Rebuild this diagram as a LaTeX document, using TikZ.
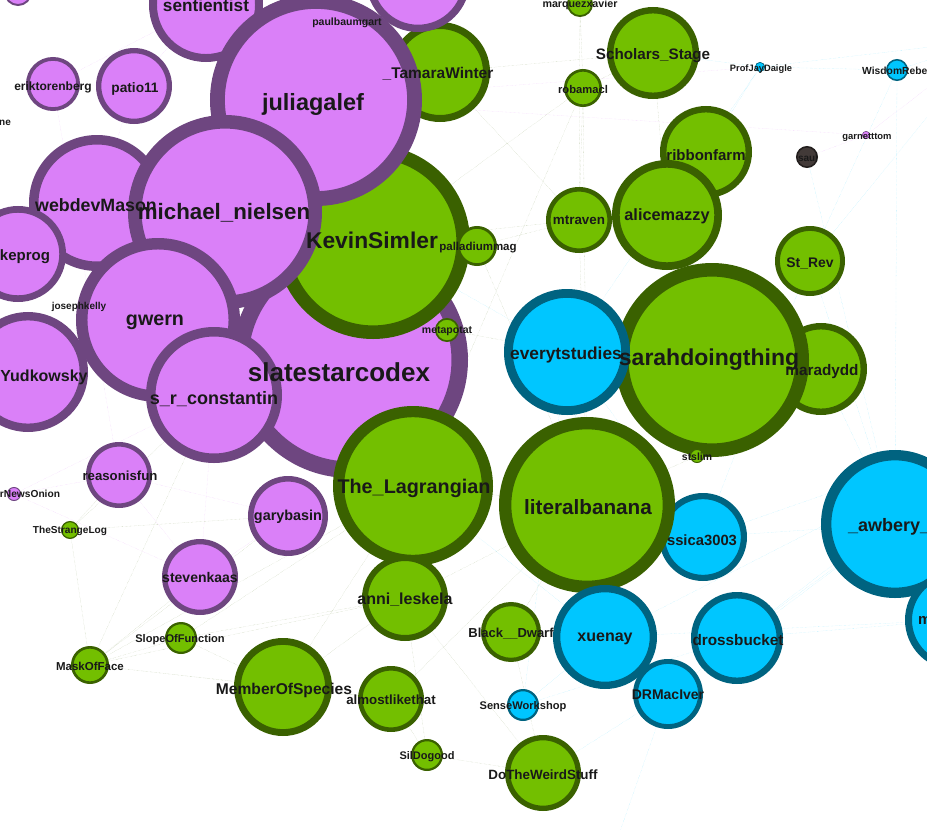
\documentclass[tikz,border=0pt]{standalone}
\usepackage{fontspec}
\setmainfont{Liberation Sans}
\usetikzlibrary{backgrounds}
\definecolor{pinkfill}{RGB}{218,128,248}
\definecolor{pinkring}{RGB}{110,70,128}
\definecolor{greenfill}{RGB}{115,191,0}
\definecolor{greenring}{RGB}{58,97,0}
\definecolor{bluefill}{RGB}{0,198,255}
\definecolor{bluering}{RGB}{0,99,128}
\definecolor{greyfill}{RGB}{66,58,56}
\definecolor{greyring}{RGB}{34,30,29}
\tikzset{
  dot/.style = {circle, minimum size={1.86*#1}, line width={0.14*#1},
                inner sep=0pt, outer sep=0pt},
  pdot/.style = {dot=#1, fill=pinkfill, draw=pinkring},
  gdot/.style = {dot=#1, fill=greenfill, draw=greenring},
  bdot/.style = {dot=#1, fill=bluefill, draw=bluering},
  lbl/.style = {font=\fontsize{#1}{#1}\selectfont\bfseries, inner sep=0pt, text=black!90},
  lbl/.default = 11,
  gedge/.style = {draw=greenring!40!white, line width=0.3pt, densely dotted},
  bedge/.style = {draw=bluefill!40!white, line width=0.3pt, densely dotted},
  pedge/.style = {draw=pinkfill!50!white, line width=0.3pt, densely dotted}
}
\begin{document}
\begin{tikzpicture}[x=1pt, y=-1pt]
	\useasboundingbox (0,0) rectangle (927,830);
	\clip (0,0) rectangle (927,830);

	% Pink cluster (back)
	\node[pdot=118] (ssc) at (350,360) {};
	\node[gdot=97] (kevin) at (373,242) {};
	\node[gdot=50] (tamara) at (440,72) {};
	\node[pdot=57] (sent) at (206,5) {};
	\node[pdot=52] (toppk) at (418,-20) {};
	\node[pdot=14] (topl) at (18,-8) {};
	\node[pdot=106] (julia) at (316,100) {};
	\node[pdot=68] (mason) at (97,203) {};
	\node[pdot=97] (nielsen) at (225,212) {};
	\node[pdot=48] (keprog) at (18,254) {};
	\node[pdot=82] (gwern) at (158,320) {};
	\node[pdot=60] (yud) at (28,372) {};
	\node[pdot=68] (src) at (214,395) {};
	\node[pdot=27] (erik) at (53,84) {};
	\node[pdot=38] (patio) at (134,86) {};
	\node[pdot=33] (reason) at (119,475) {};
	\node[pdot=7] (onion) at (14,494) {};
	\node[pdot=40] (gary) at (288,516) {};
	\node[pdot=38] (steven) at (200,577) {};
	\node[pdot=4] (garnet) at (866,135) {};

	% Green cluster
	\node[gdot=80] (lag) at (413,486) {};
	\node[gdot=20] (pall) at (477,246) {};
	\node[gdot=12] (meta) at (447,330) {};
	\node[gdot=9] (strange) at (70,530) {};
	\node[gdot=16] (slope) at (181,638) {};
	\node[gdot=19] (mask) at (90,665) {};
	\node[gdot=49] (member) at (283,687) {};
	\node[gdot=33] (almost) at (391,699) {};
	\node[gdot=16] (sil) at (427,755) {};
	\node[gdot=43] (anni) at (405,598) {};
	\node[gdot=13] (marq) at (580,4) {};
	\node[gdot=46] (scholars) at (653,53) {};
	\node[gdot=19] (robam) at (583,88) {};
	\node[gdot=46] (ribbon) at (706,152) {};
	\node[gdot=55] (alice) at (667,215) {};
	\node[gdot=33] (mtraven) at (579,220) {};
	\node[gdot=35] (strev) at (810,261) {};
	\node[gdot=46] (mara) at (821,369) {};
	\node[gdot=97] (sarah) at (712,360) {};
	\node[bdot=63] (every) at (567,352) {};
	\node[gdot=7] (stslim) at (697,456) {};
	\node[bdot=44] (jess) at (703,537) {};
	\node[gdot=88] (banana) at (587,505) {};
	\node[gdot=30] (dwarf) at (511,632) {};
	\node[gdot=38] (weird) at (543,773) {};

	% Blue cluster
	\node[bdot=52] (xuenay) at (605,637) {};
	\node[bdot=35] (drm) at (668,694) {};
	\node[bdot=46] (dross) at (737,638) {};
	\node[bdot=16] (sense) at (523,705) {};
	\node[bdot=74] (awbery) at (895,524) {};
	\node[bdot=50] (mright) at (955,620) {};
	\node[bdot=5] (jay) at (760,67) {};
	\node[bdot=11] (wisdom) at (897,70) {};
	\node[dot=11, fill=greyfill, draw=greyring] (saul) at (807,157) {};

	% Off-screen ends
	\coordinate (offE) at (1010,430);
	\coordinate (offNE) at (990,40);
	\coordinate (offS) at (610,860);
	\coordinate (offN) at (520,-40);

	% Edges
	\begin{scope}[on background layer]
	\draw[gedge] (mask) -- (slope) (mask) -- (member) (mask) -- (steven) (mask) -- (lag)
		(mask) -- (anni) (mask) -- (almost) (mask) -- (gary) (mask) -- (src);
	\draw[gedge] (strange) -- (reason) (strange) -- (src) (strange) -- (mask) (strange) -- (gary);
	\draw[gedge] (slope) -- (member) (slope) -- (anni) (slope) -- (lag) (member) -- (almost)
		(member) -- (anni) (member) -- (lag) (almost) -- (sil) (sil) -- (weird) (sil) -- (anni);
	\draw[gedge] (weird) -- (dwarf) (weird) -- (anni) (dwarf) -- (banana) (anni) -- (banana)
		(lag) -- (banana) (stslim) -- (banana) (stslim) -- (sarah) (almost) -- (banana);
	\draw[gedge] (robam) -- (mtraven) (robam) -- (scholars) (mtraven) -- (kevin) (mtraven) -- (banana)
		(marq) -- (robam) (robam) -- (kevin) (scholars) -- (alice) (tamara) -- (scholars)
		(pall) -- (mtraven) (meta) -- (every) (marq) -- (mtraven) (robam) -- (banana)
		(marq) -- (offN) (robam) -- (lag) (pall) -- (banana) (tamara) -- (mtraven);
	\draw[bedge] (jay) -- (wisdom) (jay) -- (every) (wisdom) -- (awbery) (dross) -- (awbery)
		(dross) -- (mright) (xuenay) -- (mright) (drm) -- (awbery) (drm) -- (weird)
		(jess) -- (awbery) (jess) -- (every) (every) -- (xuenay) (sense) -- (xuenay)
		(sense) -- (dross) (jess) -- (strev) (awbery) -- (strev) (mara) -- (awbery)
		(jay) -- (alice) (wisdom) -- (strev) (saul) -- (awbery) (jay) -- (scholars);
	\draw[bedge] (awbery) -- (offE) (mright) -- (offE) (dross) -- (offE) (xuenay) -- (offE)
		(jess) -- (offE) (strev) -- (offNE) (wisdom) -- (offNE) (jay) -- (offNE)
		(drm) -- (offS) (sense) -- (every) (xuenay) -- (lag) (every) -- (kevin);
	\draw[pedge] (erik) -- (patio) (erik) -- (reason) (patio) -- (sent) (onion) -- (reason)
		(onion) -- (src) (reason) -- (gary) (steven) -- (gary) (steven) -- (src)
		(garnet) -- (julia) (garnet) -- (saul) (erik) -- (sent) (patio) -- (mason)
		(jay) -- (julia) (reason) -- (steven) (onion) -- (steven) (garnet) -- (offNE);
	\end{scope}

	% Labels
	\node[lbl=17.2] (sent-t) at (206,5) {sentientist};
	\node[lbl=10.5] (paul-t) at (347,23) {paulbaumgart};
	\node[lbl=23.5] (julia-t) at (313,104) {juliagalef};
	\node[lbl=12] (erik-t) at (53,87) {eriktorenberg};
	\node[lbl=13.7] (patio-t) at (135,89) {patio11};
	\node[lbl=10] (ne-t) at (5,123) {ne};
	\node[lbl=15.5] (tamara-t) at (438,74) {\_TamaraWinter};
	\node[lbl=17.8] (mason-t) at (96,205) {webdevMason};
	\node[lbl=22.3] (nielsen-t) at (224,213) {michael\_nielsen};
	\node[lbl=15] (keprog-t) at (25,257) {keprog};
	\node[lbl=22.8] (kevin-t) at (372,240) {KevinSimler};
	\node[lbl=11.5] (pall-t) at (478,248) {palladiummag};
	\node[lbl=10] (joseph-t) at (79,307) {josephkelly};
	\node[lbl=19.7] (gwern-t) at (155,322) {gwern};
	\node[lbl=10.5] (meta-t) at (447,331) {metapotat};
	\node[lbl=16] (yud-t) at (44,377) {Yudkowsky};
	\node[lbl=26] (ssc-t) at (339,372) {slatestarcodex};
	\node[lbl=18] (src-t) at (214,399) {s\_r\_constantin};
	\node[lbl=13.2] (reason-t) at (120,476) {reasonisfun};
	\node[lbl=10.2] (onion-t) at (30,494) {rNewsOnion};
	\node[lbl=10.1] (strange-t) at (70,531) {TheStrangeLog};
	\node[lbl=14.4] (gary-t) at (288,517) {garybasin};
	\node[lbl=19.8] (lag-t) at (414,488) {The\_Lagrangian};
	\node[lbl=14] (steven-t) at (200,577) {stevenkaas};
	\node[lbl=16] (anni-t) at (405,600) {anni\_leskela};
	\node[lbl=11.1] (slope-t) at (180,640) {SlopeOfFunction};
	\node[lbl=11.5] (mask-t) at (90,666) {MaskOfFace};
	\node[lbl=15.6] (member-t) at (284,690) {MemberOfSpecies};
	\node[lbl=13.3] (almost-t) at (391,700) {almostlikethat};
	\node[lbl=11] (sil-t) at (427,757) {SilDogood};
	\node[lbl=10.7] (marq-t) at (580,5) {marquezxavier};
	\node[lbl=15.2] (scholars-t) at (653,56) {Scholars\_Stage};
	\node[lbl=11.2] (robam-t) at (583,89) {robamacl};
	\node[lbl=9.3] (jay-t) at (761,69) {ProfJayDaigle};
	\node[lbl=10.3, anchor=west] (wisdom-t) at (862,71) {WisdomRebel};
	\node[lbl=9.4] (garnet-t) at (867,137) {garnetttom};
	\node[lbl=10] (saul-t) at (808,158) {saul};
	\node[lbl=15] (ribbon-t) at (706,155) {ribbonfarm};
	\node[lbl=16.3] (alice-t) at (667,216) {alicemazzy};
	\node[lbl=13.4] (mtraven-t) at (579,220) {mtraven};
	\node[lbl=13.9] (strev-t) at (810,263) {St\_Rev};
	\node[lbl=17.3] (every-t) at (566,355) {everytstudies};
	\node[lbl=23] (sarah-t) at (709,360) {sarahdoingthing};
	\node[lbl=15.3] (mara-t) at (822,372) {maradydd};
	\node[lbl=10.4] (stslim-t) at (697,457) {stslim};
	\node[lbl=20.7] (banana-t) at (588,507) {literalbanana};
	\node[lbl=14.8] (jess-t) at (702,540) {ssica3003};
	\node[lbl=18, anchor=west] (awbery-t) at (848,527) {\_awbery\_};
	\node[lbl=15, anchor=west] (mright-t) at (918,620) {m};
	\node[lbl=13] (dwarf-t) at (511,634) {Black\_\_Dwarf};
	\node[lbl=16] (xuenay-t) at (605,639) {xuenay};
	\node[lbl=15.3] (dross-t) at (738,640) {drossbucket};
	\node[lbl=14] (drm-t) at (668,695) {DRMacIver};
	\node[lbl=11.1] (sense-t) at (523,707) {SenseWorkshop};
	\node[lbl=13.4] (weird-t) at (543,775) {DoTheWeirdStuff};

\end{tikzpicture}
\end{document}
